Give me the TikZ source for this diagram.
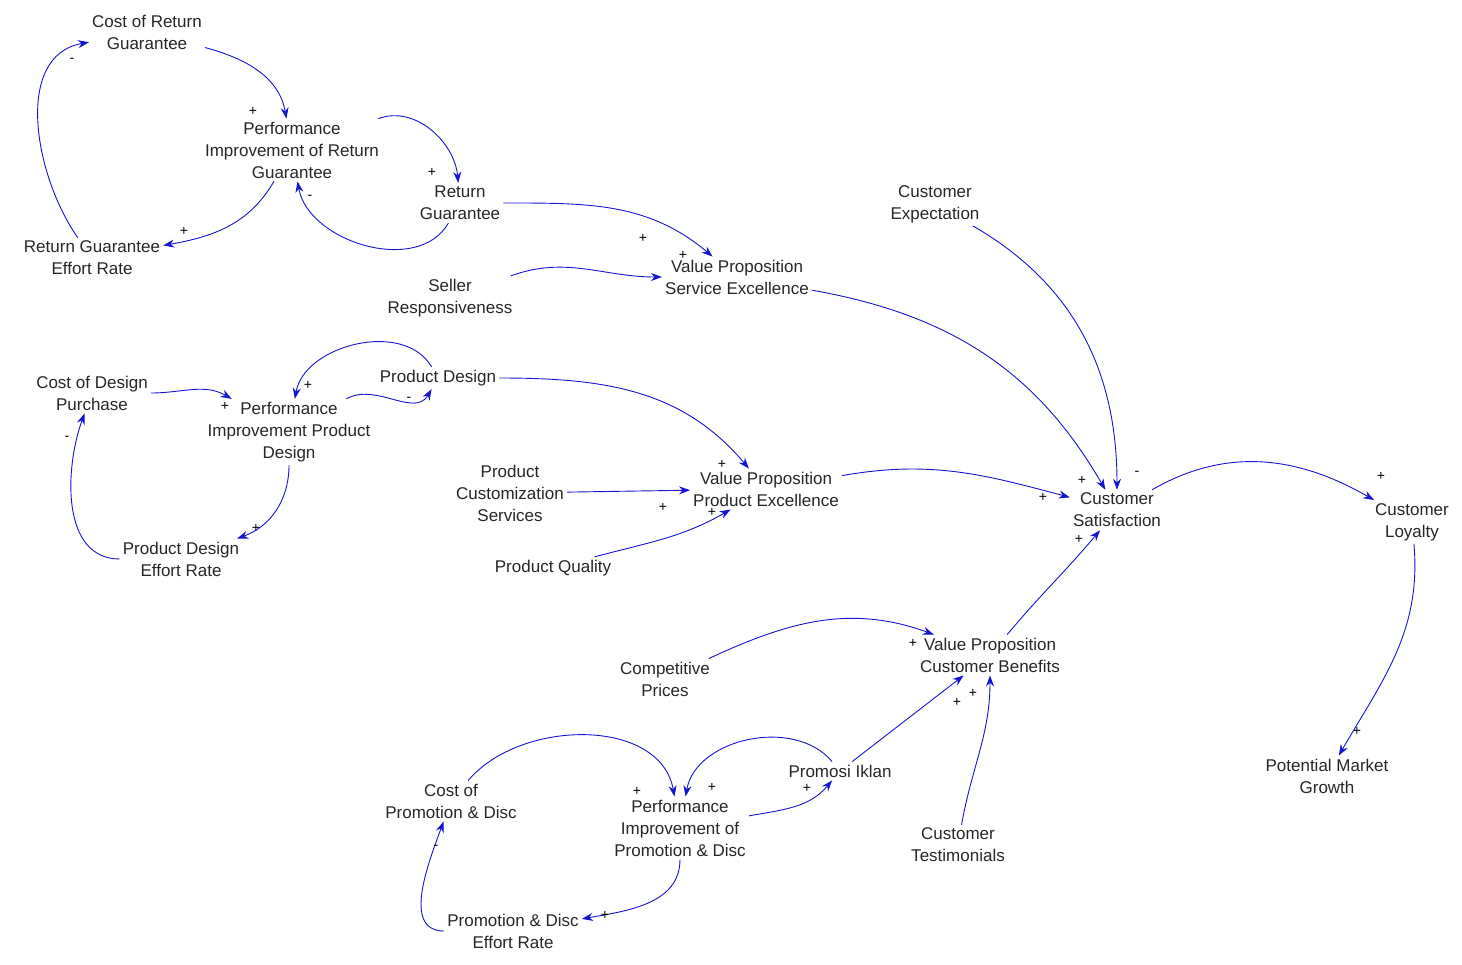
\documentclass[tikz,border=0pt]{standalone}
\usepackage{fontspec}
\setmainfont{Liberation Sans}
\usetikzlibrary{arrows.meta}
\definecolor{lk}{RGB}{20,20,210}
\begin{document}
\begin{tikzpicture}[x=1pt,y=-1pt,
  v/.style={align=center,inner sep=3pt,font=\fontsize{17}{22}\selectfont,text=black!85},
  l/.style={-{Stealth[length=11pt,width=8pt]},draw=lk,line width=0.9pt},
  s/.style={font=\fontsize{14}{14}\selectfont,inner sep=0pt}]
\useasboundingbox (0,0) rectangle (1462,964);
\node[v] (CRG) at (147,32) {Cost of Return\\Guarantee};
\node[v] (PIRG) at (292,150) {Performance\\Improvement of Return\\Guarantee};
\node[v] (RG) at (460,203) {Return\\Guarantee};
\node[v] (RGER) at (92,258) {Return Guarantee\\Effort Rate};
\node[v] (SR) at (450,298) {Seller\\Responsiveness};
\node[v] (VPSE) at (737,277) {Value Proposition\\Service Excellence};
\node[v] (CE) at (935,204) {Customer\\Expectation};
\node[v] (CDP) at (92,393) {Cost of Design\\Purchase};
\node[v] (PIPD) at (289,432) {Performance\\Improvement Product\\Design};
\node[v] (PD) at (438,378) {Product Design};
\node[v] (PDER) at (181,559) {Product Design\\Effort Rate};
\node[v] (PCS) at (510,493) {Product\\Customization\\Services};
\node[v] (VPPE) at (766,489) {Value Proposition\\Product Excellence};
\node[v] (PQ) at (553,568) {Product Quality};
\node[v] (CS) at (1117,510) {Customer\\Satisfaction};
\node[v] (CL) at (1412,522) {Customer\\Loyalty};
\node[v] (PMG) at (1327,776) {Potential Market\\Growth};
\node[v] (CP) at (665,679) {Competitive\\Prices};
\node[v] (VPCB) at (990,655) {Value Proposition\\Customer Benefits};
\node[v] (PI) at (840,771) {Promosi Iklan};
\node[v] (CPD) at (451,801) {Cost of\\Promotion \& Disc};
\node[v] (PIP) at (680,828) {Performance\\Improvement of\\Promotion \& Disc};
\node[v] (PDE) at (513,931) {Promotion \& Disc\\Effort Rate};
\node[v] (CT) at (958,845) {Customer\\Testimonials};

\draw[l] (CRG) to[out=-15,in=100] (PIRG);
\draw[l] (PIRG) to[out=-120,in=10] (RGER);
\draw[l] (RGER) to[out=125,in=190] (CRG);
\draw[l] (PIRG) to[out=20,in=95] (RG);
\draw[l] (RG) to[out=-120,in=-80] (PIRG);
\draw[l] (RG) to[out=0,in=140] (VPSE);
\draw[l] (SR) to[out=20,in=180] (VPSE);
\draw[l] (VPSE) to[out=-10,in=120] (CS);
\draw[l] (CE) to[out=-30,in=90] (CS);
\draw[l] (CDP) to[out=0,in=150] (PIPD);
\draw[l] (PIPD) to[out=30,in=-120] (PD);
\draw[l] (PD) to[out=120,in=80] (PIPD);
\draw[l] (PIPD) to[out=-90,in=20] (PDER);
\draw[l] (PDER) to[out=180,in=-110] (CDP);
\draw[l] (PD) to[out=0,in=130] (VPPE);
\draw[l] (PCS) -- (VPPE);
\draw[l] (PQ) to[out=15,in=-150] (VPPE);
\draw[l] (VPPE) to[out=10,in=165] (CS);
\draw[l] (CS) to[out=30,in=150] (CL);
\draw[l] (CL) to[out=-85,in=60] (PMG);
\draw[l] (VPCB) to[out=50,in=-130] (CS);
\draw[l] (CP) to[out=25,in=160] (VPCB);
\draw[l] (PI) -- (VPCB);
\draw[l] (CT) to[out=80,in=-90] (VPCB);
\draw[l] (CPD) to[out=50,in=100] (PIP);
\draw[l] (PI) to[out=130,in=80] (PIP);
\draw[l] (PIP) to[out=10,in=-130] (PI);
\draw[l] (PIP) to[out=-90,in=10] (PDE);
\draw[l] (PDE) to[out=180,in=-110] (CPD);

\foreach \x/\y/\t in {253/111/+,184/231/+,72/60/-,432/172/+,310/197/-,683/255/+,643/238/+,
1082/480/+,1137/473/-,225/406/+,409/399/-,308/385/+,256/528/+,67/438/-,722/464/+,663/507/+,
712/512/+,1043/497/+,1381/476/+,1357/731/+,1079/539/+,913/643/+,957/702/+,973/693/+,
637/791/+,712/787/+,807/788/+,605/915/+,436/847/-}
  \node[s] at (\x,\y) {\t};
\end{tikzpicture}
\end{document}
